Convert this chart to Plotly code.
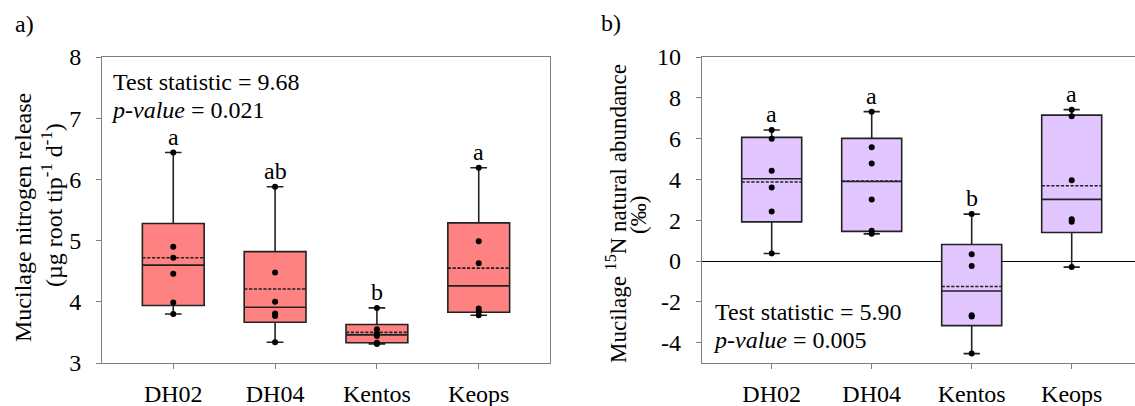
import plotly.graph_objects as go

W, H = 1135, 406

categories = ["DH02", "DH04", "Kentos", "Keops"]

# Panel a) Mucilage nitrogen release (raw observations, 6 per cultivar)
a_points = {
    "DH02": [6.44, 4.90, 4.72, 4.46, 3.99, 3.80],
    "DH04": [5.88, 4.48, 4.00, 3.81, 3.77, 3.34],
    "Kentos": [3.90, 3.55, 3.48, 3.44, 3.33, 3.31],
    "Keops": [6.19, 4.99, 4.63, 3.89, 3.85, 3.78],
}
a_q1 = [3.94, 3.665, 3.33, 3.83]
a_median = [4.60, 3.91, 3.46, 4.26]
a_q3 = [5.28, 4.82, 3.63, 5.29]
a_low = [3.80, 3.34, 3.31, 3.78]
a_high = [6.44, 5.88, 3.90, 6.19]
a_mean = [4.72, 4.21, 3.50, 4.55]
a_letters = ["a", "ab", "b", "a"]

# Panel b) Mucilage 15N natural abundance
b_points = {
    "DH02": [6.42, 5.99, 4.42, 3.60, 2.43, 0.37],
    "DH04": [7.32, 5.58, 4.78, 3.02, 1.48, 1.33],
    "Kentos": [2.30, 0.33, -0.24, -2.66, -2.72, -4.54],
    "Keops": [7.42, 7.09, 3.96, 2.05, 1.92, -0.30],
}
b_q1 = [1.92, 1.45, -3.17, 1.40]
b_median = [4.03, 3.90, -1.47, 3.02]
b_q3 = [6.06, 6.01, 0.81, 7.15]
b_low = [0.37, 1.33, -4.54, -0.30]
b_high = [6.42, 7.32, 2.30, 7.42]
b_mean = [3.87, 3.92, -1.25, 3.69]
b_letters = ["a", "a", "b", "a"]

a_ticks = [3, 4, 5, 6, 7, 8]
b_ticks = [-4, -2, 0, 2, 4, 6, 8, 10]
b_ticktext = ["-4", "-2", "0", "2", "4", "6", "8", "10"]

FONT = "Liberation Serif"
FS = 24
FRAME = "#7f7f7f"

fig = go.Figure()

def add_panel(xa, ya, q1, med, q3, lo, hi, mean, pts, fill, width):
    fig.add_trace(go.Box(
        x=categories, q1=q1, median=med, q3=q3, lowerfence=lo, upperfence=hi,
        mean=mean, boxmean=True, boxpoints=False, fillcolor=fill,
        line=dict(color="#222222", width=1.6), width=width, whiskerwidth=0.27,
        xaxis=xa, yaxis=ya, showlegend=False, hoverinfo="skip"))
    xs, ys = [], []
    for c in categories:
        for v in pts[c]:
            xs.append(c)
            ys.append(v)
    fig.add_trace(go.Scatter(
        x=xs, y=ys, mode="markers", marker=dict(color="black", size=6),
        xaxis=xa, yaxis=ya, showlegend=False, hoverinfo="skip"))

add_panel("x", "y", a_q1, a_median, a_q3, a_low, a_high, a_mean, a_points, "#FF8282", 0.607)
add_panel("x2", "y2", b_q1, b_median, b_q3, b_low, b_high, b_mean, b_points, "#E1C6FF", 0.6)

def px_x(p):
    return p / W

def px_y(p):
    return (H - p) / H

axis_common = dict(showline=True, linecolor=FRAME, linewidth=1, ticks="outside",
                   ticklen=5, tickcolor=FRAME, showgrid=False, automargin=False,
                   tickfont=dict(family=FONT, size=FS, color="black"))

fig.update_layout(
    width=W, height=H, margin=dict(l=0, r=0, t=0, b=0, pad=0),
    paper_bgcolor="white", plot_bgcolor="white",
    xaxis=dict(domain=[px_x(102), px_x(550)], type="category",
               categoryorder="array", categoryarray=categories,
               range=[-0.7, 3.7], mirror=True, anchor="y",
               ticklabelstandoff=4, **axis_common),
    yaxis=dict(domain=[px_y(363), px_y(57)], range=[3, 8], tickvals=a_ticks,
               mirror=True, zeroline=False, anchor="x",
               ticklabelstandoff=10, **axis_common),
    xaxis2=dict(domain=[px_x(701.7), 1], type="category",
                categoryorder="array", categoryarray=categories,
                range=[-0.7, 3.633], mirror=True, anchor="y2",
                ticklabelstandoff=4, **axis_common),
    yaxis2=dict(domain=[px_y(363), px_y(57)], range=[-5, 10], tickvals=b_ticks,
                ticktext=b_ticktext, mirror=False, zeroline=True,
                zerolinecolor="black", zerolinewidth=1, anchor="x2",
                ticklabelstandoff=10, **axis_common),
)

ann = []
tf = dict(family=FONT, size=FS, color="black")
# significance letters
for i, c in enumerate(categories):
    ann.append(dict(x=c, y=a_high[i] + 0.26, xref="x", yref="y", text=a_letters[i],
                    showarrow=False, font=tf, yanchor="middle"))
    ann.append(dict(x=c, y=b_high[i] + 0.77, xref="x2", yref="y2", text=b_letters[i],
                    showarrow=False, font=tf, yanchor="middle"))

# statistics text
ann += [
    dict(x=px_x(111), y=px_y(82), xref="paper", yref="paper", xanchor="left",
         yanchor="middle", text="Test statistic = 9.68", showarrow=False, font=tf),
    dict(x=px_x(109), y=px_y(110), xref="paper", yref="paper", xanchor="left",
         yanchor="middle", text="<i>p-value</i> = 0.021", showarrow=False, font=tf),
    dict(x=px_x(713), y=px_y(312), xref="paper", yref="paper", xanchor="left",
         yanchor="middle", text="Test statistic = 5.90", showarrow=False, font=tf),
    dict(x=px_x(711), y=px_y(340), xref="paper", yref="paper", xanchor="left",
         yanchor="middle", text="<i>p-value</i> = 0.005", showarrow=False, font=tf),
]

# axis titles (rotated)
ann += [
    dict(x=px_x(23), y=px_y(218), xref="paper", yref="paper", xanchor="center",
         yanchor="middle", textangle=-90, text="Mucilage nitrogen release",
         showarrow=False, font=tf),
    dict(x=px_x(52), y=px_y(205), xref="paper", yref="paper", xanchor="center",
         yanchor="middle", textangle=-90,
         text="(µg root tip<sup>-1</sup> d<sup>-1</sup>)", showarrow=False, font=tf),
    dict(x=px_x(616), y=px_y(214), xref="paper", yref="paper", xanchor="center",
         yanchor="middle", textangle=-90,
         text="Mucilage <sup>15</sup>N natural abundance", showarrow=False,
         font=dict(family=FONT, size=23, color="black")),
    dict(x=px_x(639), y=px_y(215), xref="paper", yref="paper", xanchor="center",
         yanchor="middle", textangle=-90, text="(‰)", showarrow=False,
         font=dict(family=FONT, size=23, color="black")),
]

# panel labels
ann += [
    dict(x=px_x(24), y=px_y(24), xref="paper", yref="paper", xanchor="center",
         yanchor="middle", text="a)", showarrow=False, font=tf),
    dict(x=px_x(611), y=px_y(23), xref="paper", yref="paper", xanchor="center",
         yanchor="middle", text="b)", showarrow=False, font=tf),
]

fig.update_layout(annotations=ann)
fig.write_html(
    "out.html",
    config={"displayModeBar": False},
    post_script="document.body.style.margin='0px';document.body.style.overflow='hidden';",
)
